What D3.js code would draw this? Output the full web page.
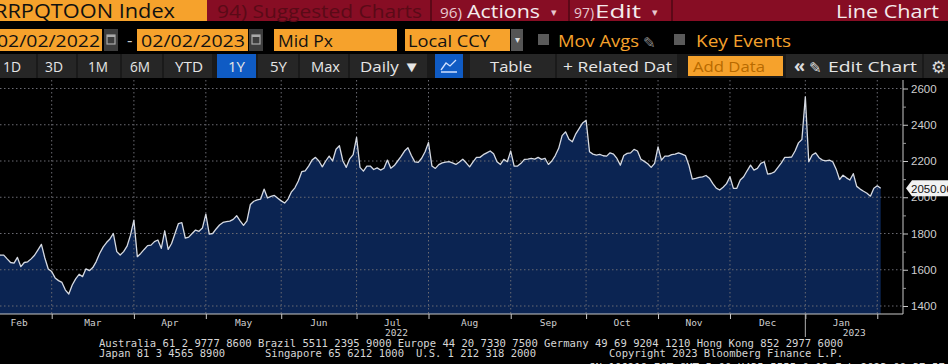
<!DOCTYPE html>
<html><head><meta charset="utf-8">
<script src="https://cdn.jsdelivr.net/npm/d3@7"></script>
<style>
html,body{margin:0;padding:0;background:#000;overflow:hidden;}
svg{display:block;}
</style></head><body>
<svg id="c" width="948" height="364"></svg>
<script>
// ---- data (daily closes, one array per month) ----
const feb22=[1700,1690,1710,1685,1681,1681,1660,1640,1637,1668,1617,1640,1644,1660,1680,1710,1740,1665,1604];
const mar22=[1590,1555,1540,1530,1488,1466,1516,1550,1575,1562,1605,1595,1612,1645,1690,1725,1750,1770,1800,1700,1681,1700,1730,1791];
const apr22=[1874,1672,1690,1712,1733,1736,1755,1764,1718,1815,1712,1745,1800,1855,1860,1775,1780,1800,1819,1812,1830];
const may22=[1907,1797,1800,1825,1847,1861,1865,1868,1878,1898,1870,1845,1870,1960,1978,1985,1990,2045,1996,2005,2010,1995];
const jun22=[1980,1968,1990,2030,2052,2090,2141,2146,2172,2205,2220,2200,2168,2200,2227,2200,2265,2284,2200,2165,2212,2235];
const jul22=[2330,2165,2144,2172,2172,2153,2162,2150,2160,2205,2160,2175,2200,2225,2255,2273,2230,2195,2192,2215,2251];
const aug22=[2302,2172,2159,2180,2190,2194,2196,2190,2181,2195,2210,2190,2168,2195,2220,2220,2235,2245,2255,2240,2196,2181,2209,2196];
const sep22=[2255,2172,2172,2187,2209,2210,2214,2210,2220,2209,2215,2181,2200,2230,2270,2340,2361,2320,2306,2350,2380,2410];
const oct22=[2425,2251,2238,2233,2236,2229,2227,2245,2238,2214,2177,2230,2242,2245,2264,2255,2210,2198,2185,2165,2187];
const nov22=[2278,2205,2227,2227,2235,2238,2245,2238,2230,2177,2100,2104,2110,2113,2120,2105,2075,2050,2040,2055,2075];
const dec22=[2113,2049,2049,2095,2113,2146,2177,2150,2159,2187,2196,2128,2131,2140,2165,2190,2220,2220,2222,2255,2300,2319];
const jan23=[2554,2196,2233,2245,2218,2205,2201,2205,2196,2155,2098,2122,2107,2095,2130,2060,2045,2033,2022,2006,2050];
const feb23=[2063,2050.06];
const monthLabels=["Feb","Mar","Apr","May","Jun","Jul","Aug","Sep","Oct","Nov","Dec","Jan",""];
const yearLabels=[{month:5,text:"2022",dx:4},{month:11,text:"2023",dx:13}];
const yTicks=[1400,1600,1800,2000,2200,2400,2600];
const yMinor=[1500,1700,1900,2100,2300,2500];
const lastLabel="2050.06";

// ---- setup ----
const svg=d3.select("#c");
svg.append("rect").attr("width",948).attr("height",364).attr("fill","#000");
const ORANGE="#f6a22c", RED="#870d24";
function txt(g,x,y,s,o={}){
  const t=g.append("text").attr("x",x).attr("y",y).text(s)
    .attr("font-family",o.family||"'Open Sans','Noto Sans',sans-serif")
    .attr("font-size",o.size||14).attr("fill",o.color||"#fff");
  if(o.anchor) t.attr("text-anchor",o.anchor);
  if(o.len){t.attr("textLength",o.len).attr("lengthAdjust","spacingAndGlyphs");}
  if(o.weight) t.attr("font-weight",o.weight);
  return t;
}
const hdr=svg.append("g");
// row 1
hdr.append("rect").attr("x",0).attr("y",0).attr("width",207).attr("height",21).attr("fill",ORANGE);
hdr.append("rect").attr("x",207).attr("y",0).attr("width",741).attr("height",21).attr("fill",RED);
[430,568,671].forEach(sx=>hdr.append("rect").attr("x",sx).attr("y",0).attr("width",2).attr("height",21).attr("fill","#5c0817"));
txt(hdr,-6,18,"RRPQTOON Index",{size:20,color:"#111",len:181});
txt(hdr,217,18,"94) Suggested Charts",{size:18,color:"#5a0a17",len:205});
txt(hdr,440,18,"96)",{size:15,color:"#e8c8cf",len:22});
txt(hdr,467,18,"Actions",{size:18,color:"#f4eaec",len:73});
txt(hdr,551,16,"▾",{size:11,color:"#e8c8cf"});
txt(hdr,574,18,"97)",{size:15,color:"#e8c8cf",len:20});
txt(hdr,595,18,"Edit",{size:18,color:"#f4eaec",len:46});
txt(hdr,652,16,"▾",{size:11,color:"#e8c8cf"});
txt(hdr,939,18,"Line Chart",{size:18,color:"#f4eaec",anchor:"end",len:103});
// row 2
function obox(x,w){hdr.append("rect").attr("x",x).attr("y",29).attr("width",w).attr("height",22).attr("fill",ORANGE);}
obox(0,102); obox(137,111); obox(274,123); obox(405,105);
function cal(x){
  hdr.append("rect").attr("x",x).attr("y",29).attr("width",14).attr("height",22).attr("fill","#3d3d3d");
  hdr.append("rect").attr("x",x+3).attr("y",35).attr("width",8).attr("height",9).attr("fill","none").attr("stroke","#aaa").attr("stroke-width",1.2);
  hdr.append("rect").attr("x",x+3).attr("y",35).attr("width",8).attr("height",2).attr("fill","#aaa");
}
cal(104); cal(249);
txt(hdr,-3,47,"02/02/2022",{size:17,color:"#111",len:103});
txt(hdr,127,46,"-",{size:17,color:"#ccc"});
txt(hdr,141,47,"02/02/2023",{size:17,color:"#111",len:104});
txt(hdr,278,47,"Mid Px",{size:17,color:"#111",len:55});
txt(hdr,408,47,"Local CCY",{size:17,color:"#111",len:82});
hdr.append("rect").attr("x",511).attr("y",29).attr("width",12).attr("height",22).attr("fill","#555");
txt(hdr,517,43,"▾",{size:10,color:"#ddd",anchor:"middle"});
hdr.append("rect").attr("x",538).attr("y",34).attr("width",11).attr("height",11).attr("fill","#5a5a5a");
txt(hdr,558,47,"Mov Avgs",{size:17,color:ORANGE,len:81});
txt(hdr,643,48,"✎",{size:15,color:"#888"});
hdr.append("rect").attr("x",674).attr("y",34).attr("width",11).attr("height",11).attr("fill","#5a5a5a");
txt(hdr,696,47,"Key Events",{size:17,color:ORANGE,len:95});
// row 3
hdr.append("rect").attr("x",0).attr("y",54).attr("width",948).attr("height",24).attr("fill","#1a1a1a");
[[0,36],[38,38],[78,42],[122,40],[164,48],[258,40],[300,48],[350,77],[470,85],[557,120],[786,28],[812,110],[924,24]].forEach(b=>
  hdr.append("rect").attr("x",b[0]).attr("y",54).attr("width",b[1]).attr("height",24).attr("fill","#262626"));
hdr.append("rect").attr("x",217).attr("y",54).attr("width",39).attr("height",24).attr("fill","#0f5bc4");
hdr.append("rect").attr("x",435).attr("y",54).attr("width",28).attr("height",24).attr("fill","#0f5bc4");
hdr.append("path").attr("d","M441,70 L446,63 L450,66 L456,60 M441,72 L457,72").attr("stroke","#cfe0ff").attr("fill","none").attr("stroke-width",1.3);
const bl=72, bs=15;
[["1D",3,18],["3D",45,18],["1M",88,20],["6M",130,20],["YTD",175,28],["1Y",228,17],["5Y",270,17],["Max",311,29],["Daily ▼",360,60],["Table",490,42],["+ Related Dat",563,109],["Edit Chart",828,89]]
  .forEach(b=>txt(hdr,b[1],bl,b[0],{size:bs,color:"#e6e6e6",len:b[2]}));
hdr.append("rect").attr("x",688).attr("y",56).attr("width",95).attr("height",20).attr("fill",ORANGE);
txt(hdr,693,72,"Add Data",{size:bs,color:"#b86a00",len:72});
txt(hdr,794,72,"«",{size:18,color:"#ddd",weight:"bold"});
txt(hdr,809,73,"✎",{size:15,color:"#ddd"});
txt(hdr,931,73,"⚙",{size:17,color:"#ddd"});

// ---- chart ----
const months=[feb22,mar22,apr22,may22,jun22,jul22,aug22,sep22,oct22,nov22,dec22,jan23,feb23];
const values=months.flat();
const starts=[]; let acc=0; months.forEach(m=>{starts.push(acc);acc+=m.length;});
const N=values.length;
const plotTop=80, plotBottom=314, plotRight=903;
const x=d3.scaleLinear().domain([0,N-1]).range([-13.4,880.7]);
const y=d3.scaleLinear().domain([1400,2600]).range([306,88.5]);
const ch=svg.append("g");
ch.append("path").datum(values)
  .attr("d",d3.area().x((d,i)=>x(i)).y0(plotBottom).y1(d=>y(d)))
  .attr("fill","#0b2452");
// grid
ch.append("g").selectAll("line").data(yTicks).join("line")
  .attr("x1",0).attr("x2",plotRight).attr("y1",d=>y(d)).attr("y2",d=>y(d))
  .attr("stroke","#6a6a72").attr("stroke-width",1).attr("stroke-dasharray","1.5,2.5");
const gridIdx=starts.slice(1);
ch.append("g").selectAll("line").data(gridIdx).join("line")
  .attr("x1",d=>x(d)).attr("x2",d=>x(d)).attr("y1",plotTop).attr("y2",plotBottom)
  .attr("stroke","#6a6a72").attr("stroke-width",1).attr("stroke-dasharray","1.5,2.5");
// line
ch.append("path").datum(values)
  .attr("d",d3.line().x((d,i)=>x(i)).y(d=>y(d)))
  .attr("fill","none").attr("stroke","#d6dae2").attr("stroke-width",1.3).attr("stroke-linejoin","round");
// axes frame
ch.append("line").attr("x1",0).attr("x2",plotRight).attr("y1",plotBottom).attr("y2",plotBottom).attr("stroke","#c8c8c8");
ch.append("line").attr("x1",plotRight).attr("x2",plotRight).attr("y1",plotTop).attr("y2",plotBottom).attr("stroke","#c8c8c8");
// right axis
const ya=ch.append("g").attr("transform",`translate(${plotRight},0)`)
  .call(d3.axisRight(y).tickValues(yTicks).tickSize(5).tickPadding(3).tickFormat(d3.format("d")));
ya.select(".domain").remove();
ya.selectAll("line").attr("stroke","#c8c8c8");
ya.selectAll("text").attr("fill","#cfcfcf").attr("font-size",11.5).attr("font-family","'Liberation Sans',Arial,sans-serif");
const ym=ch.append("g").attr("transform",`translate(${plotRight},0)`)
  .call(d3.axisRight(y).tickValues(yMinor).tickSize(3).tickFormat(""));
ym.select(".domain").remove();
ym.selectAll("line").attr("stroke","#9a9a9a");
// bottom ticks
const xa=ch.append("g").attr("transform",`translate(0,${plotBottom})`)
  .call(d3.axisBottom(x).tickValues(gridIdx).tickSize(5).tickFormat(""));
xa.select(".domain").remove();
xa.selectAll("line").attr("stroke","#c8c8c8");
// month labels
const mono="'DejaVu Sans Mono','Liberation Mono',monospace";
monthLabels.forEach((m,k)=>{
  if(!m) return;
  const cx=(x(starts[k])+x(starts[k+1]))/2;
  txt(ch,cx,326,m,{size:9.5,color:"#d0d0d0",anchor:"middle",family:mono});
});
yearLabels.forEach(yl=>{
  const cx=(x(starts[yl.month])+x(starts[yl.month+1]))/2+yl.dx;
  txt(ch,cx,336,yl.text,{size:9.5,color:"#d0d0d0",anchor:"middle",family:mono});
});
ch.append("line").attr("x1",x(starts[11])).attr("x2",x(starts[11])).attr("y1",plotBottom).attr("y2",337).attr("stroke","#b0b0b0");
// last value callout
const ly=y(values[N-1]);
ch.append("path").attr("d",`M906,${ly} L912,${ly-8} L960,${ly-8} L960,${ly+8} L912,${ly+8} Z`).attr("fill","#f2f2f2");
txt(ch,911,ly+4.5,lastLabel,{size:11.5,color:"#111",family:"'Liberation Sans',Arial,sans-serif"});

// ---- footer ----
const ft=svg.append("g");
txt(ft,99,347,"Australia 61 2 9777 8600 Brazil 5511 2395 9000 Europe 44 20 7330 7500 Germany 49 69 9204 1210 Hong Kong 852 2977 6000",{size:10.5,color:"#d6d6d6",family:mono,len:744});
txt(ft,99,357,"Japan 81 3 4565 8900",{size:10.5,color:"#d6d6d6",family:mono,len:126});
txt(ft,265,357,"Singapore 65 6212 1000",{size:10.5,color:"#d6d6d6",family:mono,len:139});
txt(ft,416,357,"U.S. 1 212 318 2000",{size:10.5,color:"#d6d6d6",family:mono,len:120});
txt(ft,609,357,"Copyright 2023 Bloomberg Finance L.P.",{size:10.5,color:"#d6d6d6",family:mono,len:234});
txt(ft,589,371,"SN 106219 EST  GMT-5:00 H435-5555-0 13-Feb-2023 09:37:57",{size:10.5,color:"#d6d6d6",family:mono,len:356});
</script>
</body></html>
